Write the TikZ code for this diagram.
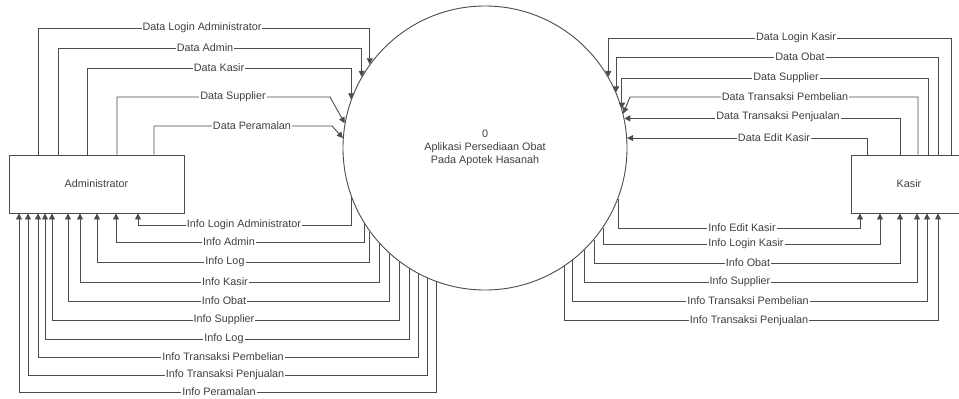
\documentclass[tikz,border=0pt]{standalone}
\usepackage{fontspec}
\setmainfont{Liberation Sans}
\usetikzlibrary{arrows.meta}

\tikzset{
  flow/.style={draw=black!70, line width=0.9pt, -{Triangle[width=6pt,length=6pt]}},
  lbl/.style={fill=white, inner sep=1pt, text=black!75, font=\fontsize{10.8}{12}\selectfont},
  entity/.style={draw=black!70, line width=0.9pt, minimum height=58pt, inner sep=0pt,
                 text=black!75, font=\fontsize{10.8}{12}\selectfont},
  process/.style={circle, draw=black!70, line width=0.9pt, minimum size=284pt, inner sep=0pt,
                  text=black!75, align=center, font=\fontsize{10.8}{13}\selectfont},
}

\begin{document}
\begin{tikzpicture}[x=1pt, y=-1pt]
  \useasboundingbox (0,0) rectangle (959,399);
  \fill[white] (0,0) rectangle (959,399);
  \clip (0,0) rectangle (959,399);

  % external entities and the context process
  \node[entity, minimum width=175pt] (adm) at (96.5,184) {Administrator};
  \node[entity, minimum width=116pt] (ksr) at (909,184) {Kasir};
  \node[process] (p) at (485,148) {0\\Aplikasi Persediaan Obat\\Pada Apotek Hasanah};

  % Administrator -> process
  \draw[flow] (adm.north -| 38,0) -- (38,28) -| (p.144.8);
  \draw[flow] (adm.north -| 58,0) -- (58,48) -| (p.150.8);
  \draw[flow] (adm.north -| 87,0) -- (87,68) -| (p.160.7);
  \draw[flow] (adm.north -| 117,0) -- (117,97) -- (330,97) -- (p.170);
  \draw[flow] (adm.north -| 154,0) -- (154,126) -- (332,126) -- (p.176);
  \node[lbl] (d1) at (202,28)  {Data Login Administrator};
  \node[lbl] (d2) at (205,48)  {Data Admin};
  \node[lbl] (d3) at (219,68)  {Data Kasir};
  \node[lbl] (d4) at (233,97)  {Data Supplier};
  \node[lbl] (d5) at (252,126) {Data Peramalan};

  % process -> Administrator
  \draw[flow] (p.-160.7) |- (138,225) -- (adm.south -| 138,0);
  \draw[flow] (p.-148.4) |- (116,242) -- (adm.south -| 116,0);
  \draw[flow] (p.-144.8) |- (97,262)  -- (adm.south -| 97,0);
  \draw[flow] (p.-138.9) |- (80,282)  -- (adm.south -| 80,0);
  \draw[flow] (p.-132.5) |- (68,301)  -- (adm.south -| 68,0);
  \draw[flow] (p.-127.3) |- (52,320)  -- (adm.south -| 52,0);
  \draw[flow] (p.-122.4) |- (45,339)  -- (adm.south -| 45,0);
  \draw[flow] (p.-118.6) |- (38,357)  -- (adm.south -| 38,0);
  \draw[flow] (p.-114.1) |- (28,375)  -- (adm.south -| 28,0);
  \draw[flow] (p.-110.2) |- (19,392)  -- (adm.south -| 19,0);
  \node[lbl] (i1)  at (244,225) {Info Login Administrator};
  \node[lbl] (i2)  at (229,242) {Info Admin};
  \node[lbl] (i3)  at (225,262) {Info Log};
  \node[lbl] (i4)  at (225,282) {Info Kasir};
  \node[lbl] (i5)  at (224,301) {Info Obat};
  \node[lbl] (i6)  at (224,320) {Info Supplier};
  \node[lbl] (i7)  at (224,339) {Info Log};
  \node[lbl] (i8)  at (223,357) {Info Transaksi Pembelian};
  \node[lbl] (i9)  at (225,375) {Info Transaksi Penjualan};
  \node[lbl] (i10) at (219,392) {Info Peramalan};

  % Kasir -> process
  \draw[flow] (ksr.north -| 951,0) -- (951,38) -| (p.30);
  \draw[flow] (ksr.north -| 938,0) -- (938,57) -| (p.23.7);
  \draw[flow] (ksr.north -| 928,0) -- (928,78) -| (p.16);
  \draw[flow] (ksr.north -| 918,0) -- (918,97) -- (630,97) -- (p.14);
  \draw[flow] (ksr.north -| 900,0) |- (p.12);
  \draw[flow] (ksr.north -| 867,0) |- (p.4);
  \node[lbl] (k1) at (796,38)  {Data Login Kasir};
  \node[lbl] (k2) at (800,57)  {Data Obat};
  \node[lbl] (k3) at (786,78)  {Data Supplier};
  \node[lbl] (k4) at (785,97)  {Data Transaksi Pembelian};
  \node[lbl] (k5) at (778,117) {Data Transaksi Penjualan};
  \node[lbl] (k6) at (774,138) {Data Edit Kasir};

  % process -> Kasir
  \draw[flow] (p.-21.6) |- (860,228) -- (ksr.south -| 860,0);
  \draw[flow] (p.-34.5) |- (880,244) -- (ksr.south -| 880,0);
  \draw[flow] (p.-40.5) |- (900,263) -- (ksr.south -| 900,0);
  \draw[flow] (p.-46.9) |- (917,282) -- (ksr.south -| 917,0);
  \draw[flow] (p.-52.2) |- (927,301) -- (ksr.south -| 927,0);
  \draw[flow] (p.-56.7) |- (938,320) -- (ksr.south -| 938,0);
  \node[lbl] (j1) at (742,228) {Info Edit Kasir};
  \node[lbl] (j2) at (746,244) {Info Login Kasir};
  \node[lbl] (j3) at (748,263) {Info Obat};
  \node[lbl] (j4) at (740,282) {Info Supplier};
  \node[lbl] (j5) at (748,301) {Info Transaksi Pembelian};
  \node[lbl] (j6) at (749,321) {Info Transaksi Penjualan};
\end{tikzpicture}
\end{document}
